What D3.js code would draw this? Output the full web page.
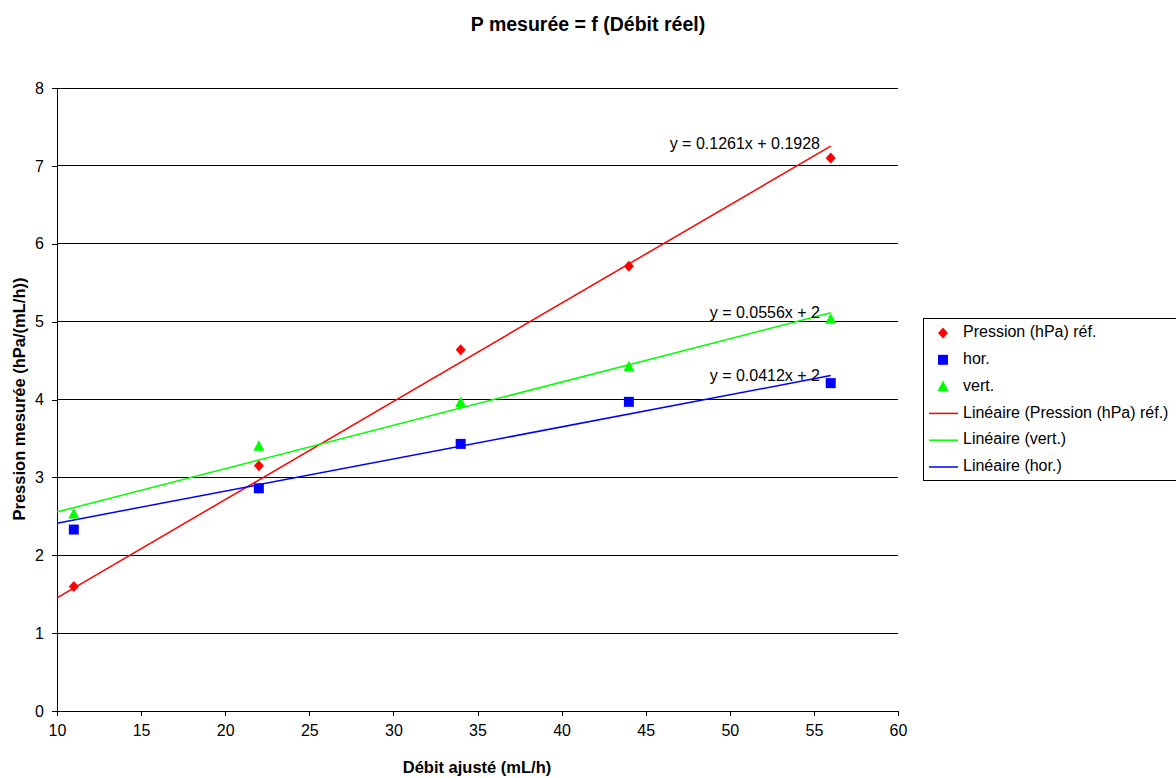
<!DOCTYPE html>
<html>
<head>
<meta charset="utf-8">
<script src="https://cdn.jsdelivr.net/npm/d3@7"></script>
<style>
  body { margin: 0; background: #fff; }
  text { font-family: Arial, "Liberation Sans", sans-serif; }
</style>
</head>
<body>
<svg id="chart" width="1176" height="778"></svg>
<script>
// data
const debit = [11, 22, 34, 44, 56];
const pression = [1.6, 3.15, 4.64, 5.71, 7.1];
const hor = [2.33, 2.86, 3.43, 3.97, 4.21];
const vert = [2.53, 3.4, 3.96, 4.42, 5.03];

// trend lines (slope, intercept) as printed on the chart
const fits = [
  { name: "Linéaire (Pression (hPa) réf.)", a: 0.1261, b: 0.1928, color: "#ff0000", label: "y = 0.1261x + 0.1928" },
  { name: "Linéaire (vert.)", a: 0.0556, b: 2, color: "#00ff00", label: "y = 0.0556x + 2" },
  { name: "Linéaire (hor.)", a: 0.0412, b: 2, color: "#0000ff", label: "y = 0.0412x + 2" }
];
const labelY = [7.27, 5.1, 4.29];
const fitRange = [10, 56];

const xTicks = [10, 15, 20, 25, 30, 35, 40, 45, 50, 55, 60];
const yTicks = [0, 1, 2, 3, 4, 5, 6, 7, 8];

const svg = d3.select("#chart");
const x = d3.scaleLinear().domain([10, 60]).range([57, 898]);
const y = d3.scaleLinear().domain([0, 8]).range([711, 88]);

// gridlines
svg.append("g").selectAll("line")
  .data(yTicks.filter(d => d > 0))
  .enter().append("line")
  .attr("x1", x(10)).attr("x2", x(60))
  .attr("y1", d => y(d)).attr("y2", d => y(d))
  .attr("stroke", "#000").attr("stroke-width", 1).attr("shape-rendering", "crispEdges");

// axes
const xAxis = svg.append("g")
  .attr("transform", `translate(0,${y(0)})`)
  .call(d3.axisBottom(x).tickValues(xTicks).tickSize(5).tickPadding(9));
const yAxis = svg.append("g")
  .attr("transform", `translate(${x(10)},0)`)
  .call(d3.axisLeft(y).tickValues(yTicks).tickSize(5).tickPadding(8));
[xAxis, yAxis].forEach(g => {
  g.selectAll("text").attr("font-size", 16).attr("fill", "#000")
    .attr("font-family", "Arial, 'Liberation Sans', sans-serif");
  g.selectAll("line,path").attr("stroke", "#000").attr("shape-rendering", "crispEdges");
});
xAxis.select(".domain").attr("d", `M${x(10)},0H${x(60)}`);
yAxis.select(".domain").attr("d", `M0,${y(0)}V${y(8)}`);

// trend lines
fits.forEach(f => {
  svg.append("line")
    .attr("x1", x(fitRange[0])).attr("y1", y(f.a * fitRange[0] + f.b))
    .attr("x2", x(fitRange[1])).attr("y2", y(f.a * fitRange[1] + f.b))
    .attr("stroke", f.color).attr("stroke-width", 1.5);
});

// marker shapes
const diamond = "M0,-5.5L5,0L0,5.5L-5,0Z";
const triangle = "M0,-6L5.5,4.5L-5.5,4.5Z";

const pts = (vals) => debit.map((d, i) => [d, vals[i]]);
svg.append("g").selectAll("path")
  .data(pts(pression)).enter().append("path")
  .attr("transform", d => `translate(${x(d[0])},${y(d[1])})`)
  .attr("d", diamond)
  .attr("fill", "#ff0000");
svg.append("g").selectAll("rect")
  .data(pts(hor)).enter().append("rect")
  .attr("x", d => x(d[0]) - 5).attr("y", d => y(d[1]) - 5)
  .attr("width", 10).attr("height", 10)
  .attr("fill", "#0000ff");
svg.append("g").selectAll("path")
  .data(pts(vert)).enter().append("path")
  .attr("transform", d => `translate(${x(d[0])},${y(d[1])})`)
  .attr("d", triangle)
  .attr("fill", "#00ff00");

// equation labels
fits.forEach((f, i) => {
  svg.append("text")
    .attr("x", 820).attr("y", y(labelY[i]))
    .attr("text-anchor", "end").attr("dominant-baseline", "middle")
    .attr("font-size", 16).attr("fill", "#000")
    .text(f.label);
});

// titles
svg.append("text").attr("x", 588).attr("y", 31)
  .attr("text-anchor", "middle").attr("font-size", 19.5).attr("font-weight", "bold")
  .text("P mesurée = f (Débit réel)");
svg.append("text").attr("x", 477).attr("y", 773)
  .attr("text-anchor", "middle").attr("font-size", 16.5).attr("font-weight", "bold")
  .text("Débit ajusté (mL/h)");
svg.append("text")
  .attr("transform", "translate(25,399) rotate(-90)")
  .attr("text-anchor", "middle").attr("font-size", 16.5).attr("font-weight", "bold")
  .text("Pression mesurée (hPa/(mL/h))");

// legend
const legend = svg.append("g");
legend.append("rect")
  .attr("x", 923.5).attr("y", 318.5).attr("width", 270).attr("height", 162)
  .attr("fill", "#fff").attr("stroke", "#000").attr("stroke-width", 1);
const legendItems = [
  { name: "Pression (hPa) réf.", type: "diamond", color: "#ff0000" },
  { name: "hor.", type: "square", color: "#0000ff" },
  { name: "vert.", type: "triangle", color: "#00ff00" },
  { name: fits[0].name, type: "line", color: fits[0].color },
  { name: fits[1].name, type: "line", color: fits[1].color },
  { name: fits[2].name, type: "line", color: fits[2].color }
];
legendItems.forEach((it, i) => {
  const cy = 333 + i * 26.8;
  const cx = 943;
  if (it.type === "diamond") {
    legend.append("path").attr("transform", `translate(${cx},${cy})`)
      .attr("d", diamond).attr("fill", it.color);
  } else if (it.type === "square") {
    legend.append("rect").attr("x", cx - 5).attr("y", cy - 5)
      .attr("width", 10).attr("height", 10).attr("fill", it.color);
  } else if (it.type === "triangle") {
    legend.append("path").attr("transform", `translate(${cx},${cy})`)
      .attr("d", triangle).attr("fill", it.color);
  } else {
    legend.append("line").attr("x1", 929).attr("x2", 958)
      .attr("y1", cy).attr("y2", cy)
      .attr("stroke", it.color).attr("stroke-width", 1.5);
  }
  legend.append("text").attr("x", 963).attr("y", cy)
    .attr("dominant-baseline", "middle").attr("font-size", 16)
    .text(it.name);
});
</script>
</body>
</html>
